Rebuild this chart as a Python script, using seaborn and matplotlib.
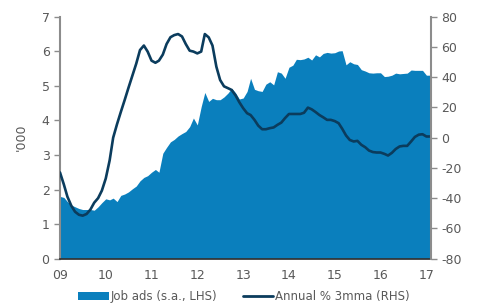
import pandas as pd
import numpy as np
import matplotlib
matplotlib.use('Agg')
import matplotlib.pyplot as plt
import matplotlib.dates as mdates
from matplotlib.patches import Patch
from matplotlib.lines import Line2D
import seaborn as sns

# Monthly data, Jan 2009 - Feb 2017
dates = pd.date_range('2009-01-01', periods=98, freq='MS')

job_ads = [1.80, 1.77, 1.65, 1.55, 1.50, 1.45, 1.42, 1.42, 1.42, 1.40, 1.50, 1.62,
           1.73, 1.70, 1.75, 1.65, 1.83, 1.87, 1.93, 2.02, 2.10, 2.25, 2.35, 2.40,
           2.50, 2.58, 2.50, 3.05, 3.22, 3.38, 3.45, 3.55, 3.62, 3.68, 3.82, 4.07,
           3.87, 4.40, 4.81, 4.55, 4.64, 4.60, 4.60, 4.68, 4.79, 4.93, 4.80, 4.62,
           4.65, 4.84, 5.22, 4.90, 4.86, 4.84, 5.05, 5.12, 5.03, 5.41, 5.37, 5.22,
           5.54, 5.60, 5.77, 5.76, 5.78, 5.83, 5.75, 5.90, 5.84, 5.94, 5.97, 5.95,
           5.96, 6.01, 6.02, 5.61, 5.70, 5.64, 5.62, 5.47, 5.43, 5.38, 5.37, 5.38,
           5.38, 5.27, 5.28, 5.31, 5.37, 5.35, 5.36, 5.37, 5.46, 5.45, 5.45, 5.45,
           5.31, 5.31]

annual_3mma = [-23, -31, -39, -45, -49, -51, -51.6, -50.5, -47.5, -43, -40, -35,
               -27, -15, 0, 9, 17, 25, 33, 41, 49, 58, 61, 57,
               51, 49.6, 51, 55, 62, 66.5, 67.9, 68.6, 67, 62, 57.6, 57,
               55.8, 57, 68.6, 66.4, 61, 47, 38.2, 34, 32.8, 31.6, 28, 23.5,
               19.5, 16.2, 15, 11.8, 8, 5.6, 5.6, 6.3, 6.8, 8.5, 10, 13,
               15.7, 15.7, 15.7, 15.7, 16.5, 19.9, 18.8, 17, 15, 13.5, 11.8, 11.8,
               11, 9.6, 6, 1.5, -1.5, -2.5, -2.1, -4.7, -6.3, -8.5, -9.5, -9.8,
               -9.8, -10.7, -11.8, -10, -7.5, -5.8, -5.4, -5.4, -2.5, 0.5, 2, 2.3,
               0.8, 0.8]

df = pd.DataFrame({'date': dates, 'job_ads': job_ads, 'annual': annual_3mma})

fill_col = '#0a7fbd'
line_col = '#0b3c5d'
text_col = '#595959'
spine_col = '#8c8c8c'

sns.set_theme(style="white")
plt.rcParams['font.family'] = ['DejaVu Sans']
plt.rcParams['axes.unicode_minus'] = False

fig = plt.figure(figsize=(4.78, 3.06), dpi=100)
ax = fig.add_axes([0.1255, 0.155, 0.776, 0.79])
ax2 = ax.twinx()

ax.fill_between(df['date'], 0, df['job_ads'], color=fill_col, linewidth=0)
sns.lineplot(data=df, x='date', y='annual', ax=ax2, color=line_col, linewidth=1.9)

ax.set_ylim(0, 7)
ax2.set_ylim(-80, 80)
ax.set_xlim(df['date'].iloc[0], df['date'].iloc[-1] + pd.Timedelta(days=5))
ax.set_yticks(range(0, 8))
ax2.set_yticks(range(-80, 81, 20))

ax.xaxis.set_major_locator(mdates.YearLocator())
ax.xaxis.set_major_formatter(mdates.DateFormatter('%y'))

ax.set_xlabel('')
ax2.set_xlabel('')
ax2.set_ylabel('')
ax.set_ylabel("'000", color=text_col, fontsize=9, labelpad=10)

for a in (ax, ax2):
    a.spines['top'].set_visible(False)
    a.tick_params(colors=text_col, labelsize=9, length=4, width=1)
    a.grid(False)
ax.spines['left'].set_color(spine_col)
ax.spines['left'].set_linewidth(1.5)
ax2.spines['right'].set_color(spine_col)
ax2.spines['right'].set_linewidth(1.5)
ax2.spines['left'].set_visible(False)
ax.spines['right'].set_visible(False)
ax.spines['bottom'].set_color('#333333')
ax2.spines['bottom'].set_visible(False)
ax.tick_params(axis='x', colors='#333333', labelcolor=text_col)
ax.tick_params(axis='y', left=True, colors=spine_col, labelcolor=text_col)
ax2.tick_params(axis='y', right=True, colors=spine_col, labelcolor=text_col)

handles = [Patch(facecolor=fill_col, edgecolor='none'),
           Line2D([0], [0], color=line_col, linewidth=2)]
labels = ['Job ads (s.a., LHS)', 'Annual % 3mma (RHS)']
fig.legend(handles, labels, loc='center', bbox_to_anchor=(0.51, 0.03), ncol=2,
           frameon=False, fontsize=8.5, handlelength=2.6, handletextpad=0.1,
           columnspacing=2.2, labelcolor=text_col)

fig.savefig('out.png', dpi=100)
